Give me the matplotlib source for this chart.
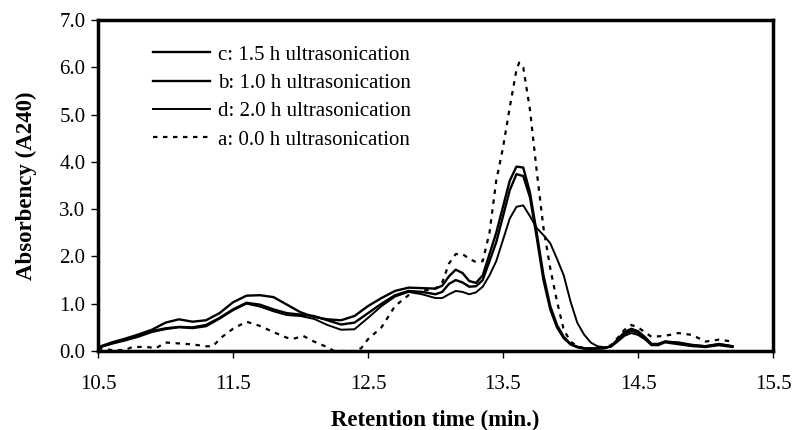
import matplotlib.pyplot as plt
from matplotlib.ticker import FormatStrFormatter

plt.rcParams['font.family'] = ['Liberation Serif', 'DejaVu Serif']

# retention time grid for the three ultrasonicated samples
t = [10.5, 10.6, 10.7, 10.8, 10.9, 11.0, 11.1, 11.2, 11.3, 11.4, 11.5, 11.6, 11.7, 11.8, 11.9,
     12.0, 12.1, 12.2, 12.3, 12.4, 12.5, 12.6, 12.7, 12.8, 12.9, 13.0, 13.05, 13.1, 13.15, 13.2,
     13.25, 13.3, 13.35, 13.4, 13.45, 13.5, 13.55, 13.6, 13.65, 13.7, 13.75, 13.8, 13.85, 13.9,
     13.95, 14.0, 14.05, 14.1, 14.15, 14.2, 14.25, 14.3, 14.35, 14.4, 14.45, 14.5, 14.55, 14.6,
     14.65, 14.7, 14.8, 14.9, 15.0, 15.1, 15.2]

c_15h = [0.08, 0.18, 0.26, 0.35, 0.45, 0.6, 0.67, 0.62, 0.65, 0.8, 1.03, 1.17, 1.18, 1.14, 0.98,
         0.82, 0.72, 0.67, 0.65, 0.74, 0.95, 1.12, 1.27, 1.34, 1.33, 1.32, 1.38, 1.58, 1.72, 1.65,
         1.48, 1.44, 1.6, 2.05, 2.5, 3.05, 3.6, 3.9, 3.88, 3.35, 2.5, 1.6, 0.95, 0.55,
         0.3, 0.15, 0.09, 0.06, 0.05, 0.06, 0.06, 0.1, 0.25, 0.4, 0.47, 0.42, 0.3, 0.15,
         0.15, 0.2, 0.18, 0.13, 0.1, 0.15, 0.1]

b_10h = [0.07, 0.16, 0.24, 0.32, 0.42, 0.48, 0.51, 0.5, 0.55, 0.7, 0.88, 1.02, 0.98, 0.88, 0.8,
         0.77, 0.74, 0.65, 0.56, 0.6, 0.8, 1.0, 1.18, 1.27, 1.25, 1.2, 1.25, 1.42, 1.5, 1.45,
         1.36, 1.37, 1.5, 1.9, 2.3, 2.85, 3.4, 3.74, 3.7, 3.25, 2.4, 1.5, 0.88, 0.5,
         0.27, 0.14, 0.08, 0.05, 0.05, 0.05, 0.06, 0.1, 0.22, 0.36, 0.43, 0.38, 0.28, 0.14,
         0.14, 0.2, 0.16, 0.12, 0.1, 0.14, 0.1]

d_20h = [0.07, 0.15, 0.22, 0.3, 0.4, 0.46, 0.5, 0.48, 0.52, 0.68, 0.86, 1.0, 0.94, 0.84, 0.76,
         0.74, 0.68, 0.55, 0.45, 0.46, 0.7, 0.95, 1.15, 1.25, 1.2, 1.12, 1.12, 1.2, 1.27, 1.25,
         1.2, 1.24, 1.36, 1.6, 1.9, 2.35, 2.8, 3.05, 3.08, 2.85, 2.6, 2.45, 2.28, 1.95,
         1.6, 1.05, 0.6, 0.35, 0.18, 0.1, 0.08, 0.09, 0.2, 0.32, 0.38, 0.34, 0.25, 0.12,
         0.12, 0.18, 0.14, 0.1, 0.08, 0.12, 0.08]

# untreated sample
t_a = [10.5, 10.6, 10.7, 10.75, 10.85, 10.93, 11.0, 11.1, 11.2, 11.3, 11.35, 11.42, 11.5, 11.6,
       11.7, 11.8, 11.9, 11.95, 12.02, 12.1, 12.2, 12.25, 12.3, 12.4, 12.45, 12.5, 12.6, 12.7,
       12.8, 12.9, 13.0, 13.05, 13.1, 13.15, 13.2, 13.25, 13.3, 13.35, 13.4, 13.45, 13.5, 13.55,
       13.6, 13.62, 13.65, 13.7, 13.75, 13.8, 13.85, 13.9, 13.95, 14.0, 14.05, 14.1, 14.2, 14.3,
       14.35, 14.4, 14.45, 14.5, 14.55, 14.6, 14.7, 14.8, 14.9, 15.0, 15.1, 15.2]
a_00h = [0.06, 0.02, 0.02, 0.08, 0.09, 0.06, 0.18, 0.16, 0.14, 0.1, 0.1, 0.3, 0.47, 0.62,
         0.53, 0.4, 0.28, 0.26, 0.32, 0.2, 0.08, 0.0, 0.0, 0.0, 0.06, 0.25, 0.5, 0.95,
         1.18, 1.27, 1.32, 1.45, 1.85, 2.05, 2.05, 1.95, 1.88, 1.9, 2.5, 3.6, 4.3, 5.15,
         5.95, 6.1, 6.0, 5.1, 3.8, 2.6, 1.75, 1.05, 0.45, 0.2, 0.1, 0.06, 0.05, 0.12,
         0.28, 0.45, 0.55, 0.5, 0.4, 0.3, 0.32, 0.38, 0.34, 0.2, 0.24, 0.2]

fig = plt.figure(figsize=(7.92, 4.30), dpi=100)
ax = fig.add_axes([0.1237, 0.1837, 0.8523, 0.7698])

ax.plot(t, c_15h, color='black', lw=1.7, label='c: 1.5 h ultrasonication')
ax.plot(t, b_10h, color='black', lw=1.7, label='b: 1.0 h ultrasonication')
ax.plot(t, d_20h, color='black', lw=1.4, label='d: 2.0 h ultrasonication')
ax.plot(t_a, a_00h, color='black', lw=1.6, dashes=(2, 2.5), label='a: 0.0 h ultrasonication')

ax.set_xlim(10.5, 15.5)
ax.set_ylim(0, 7)
ax.set_xticks([10.5, 11.5, 12.5, 13.5, 14.5, 15.5])
ax.set_yticks(range(8))
ax.xaxis.set_major_formatter(FormatStrFormatter('%.1f'))
ax.yaxis.set_major_formatter(FormatStrFormatter('%.1f'))
ax.tick_params(labelsize=15, direction='out', length=5, width=1)
ax.tick_params(axis='x', pad=12)
ax.tick_params(axis='y', pad=4)

for s in ax.spines.values():
    s.set_linewidth(2.5)

ax.set_xlabel('Retention time (min.)', fontsize=16.5, fontweight='bold', labelpad=12)
ax.set_ylabel('Absorbency (A240)', fontsize=16.5, fontweight='bold', labelpad=16)

ax.legend(loc='upper left', bbox_to_anchor=(0.081, 0.924), frameon=False, fontsize=15,
          handlelength=2.75, handletextpad=0.4, labelspacing=0.42, borderaxespad=0, borderpad=0)

fig.savefig('out.png', dpi=100)
